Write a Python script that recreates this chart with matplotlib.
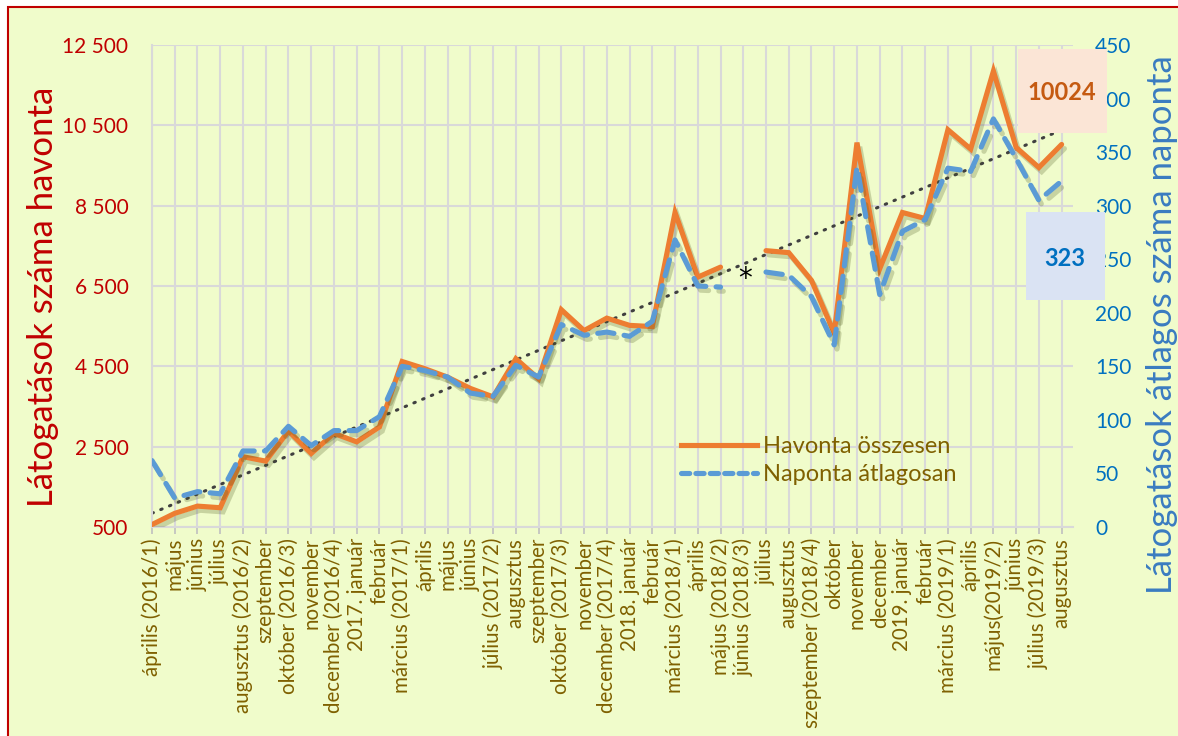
import numpy as np
import matplotlib.pyplot as plt
import matplotlib.patheffects as pe
from matplotlib.patches import Rectangle
from matplotlib.lines import Line2D

plt.rcParams['font.family'] = ['Lato', 'DejaVu Sans']

# months April 2016 - August 2019
months = ['április (2016/1)', 'május', 'június', 'július', 'augusztus (2016/2)',
          'szeptember', 'október (2016/3)', 'november', 'december (2016/4)',
          '2017. január', 'február', 'március (2017/1)', 'április', 'május',
          'június', 'július (2017/2)', 'augusztus', 'szeptember', 'október (2017/3)',
          'november', 'december (2017/4)', '2018. január', 'február',
          'március (2018/1)', 'április', 'május (2018/2)', 'június (2018/3)',
          'július', 'augusztus', 'szeptember (2018/4)', 'október', 'november',
          'december', '2019. január', 'február', 'március (2019/1)', 'április',
          'május(2019/2)', 'június', 'július (2019/3)', 'augusztus']

# monthly total visits (left axis), June 2018 missing
monthly = [560, 840, 1020, 980, 2250, 2140, 2890, 2330, 2830, 2620,
           2990, 4620, 4440, 4230, 3950, 3740, 4690, 4190, 5910, 5390,
           5700, 5520, 5490, 8330, 6720, 6970, np.nan, 7380, 7330, 6640,
           5330, 10070, 6930, 8330, 8180, 10390, 9910, 11850, 9950, 9450,
           10024]

# daily average visits (right axis)
daily = [62, 27, 33, 31, 71, 71, 94, 76, 90, 90,
         103, 150, 146, 140, 125, 122, 151, 140, 189, 179,
         182, 178, 192, 268, 225, 224, np.nan, 238, 235, 215,
         170, 336, 217, 276, 287, 335, 332, 381, 344, 305,
         323]

left_ticks = [500, 2500, 4500, 6500, 8500, 10500, 12500]
right_ticks = [0, 50, 100, 150, 200, 250, 300, 350, 400, 450]

red = '#C00000'
blue_txt = '#0070C0'
olive = '#7F6000'
orange = '#ED7D31'
blue = '#5B9BD5'
bg = '#F0FCCB'

fig = plt.figure(figsize=(11.78, 7.36), dpi=100)
fig.patch.set_facecolor('white')
fig.add_artist(Rectangle((8 / 1178, -0.05), 1.2, 1 - 7 / 736 + 0.05,
                         transform=fig.transFigure, facecolor=bg,
                         edgecolor=red, linewidth=1.5, zorder=-10))

ax = fig.add_axes([152 / 1178, 1 - 527 / 736, (1073 - 152) / 1178, (527 - 45) / 736])
ax.set_facecolor('none')
x = np.arange(len(months))

shadow = [pe.SimpleLineShadow(offset=(2, -3), shadow_color='#4d5a20', alpha=0.25),
          pe.Normal()]

ax.plot(x, monthly, color=orange, lw=3.7, solid_capstyle='round',
        solid_joinstyle='miter', path_effects=shadow, zorder=3)

# linear trendline of the monthly totals
m = ~np.isnan(np.array(monthly, dtype=float))
coef = np.polyfit(x[m], np.array(monthly)[m], 1)
ax.plot(x, np.polyval(coef, x), color='#404040', lw=2.2, ls=(0, (0.5, 2.6)),
        dash_capstyle='round', zorder=2)

ax.set_xlim(0, 40.5)
ax.set_ylim(500, 12500)
ax.set_yticks(left_ticks)
ax.set_yticklabels([f'{v:,}'.replace(',', ' ') for v in left_ticks])
ax.tick_params(axis='y', colors=red, labelsize=15, length=0, pad=17)
ax.set_xticks(x)
ax.set_xticklabels(months, rotation=90, color=olive, fontsize=14.8)
ax.tick_params(axis='x', color='#BFBFBF', length=5, width=1.2, pad=3)
ax.grid(True, color='#D9D9D9', lw=1.5, zorder=0)
ax.set_axisbelow(True)
for s in ['top', 'right']:
    ax.spines[s].set_visible(False)
for s in ['left', 'bottom']:
    ax.spines[s].set_color('#D9D9D9')
    ax.spines[s].set_linewidth(1.5)

ax2 = ax.twinx()
ax2.plot(x, daily, color=blue, lw=3.7, ls=(0, (3.2, 2.0)),
         dash_capstyle='round', path_effects=shadow, zorder=3)
ax2.set_ylim(0, 450)
ax2.set_yticks(right_ticks)
ax2.tick_params(axis='y', colors=blue_txt, labelsize=15, length=0, pad=16)
for s in ax2.spines.values():
    s.set_visible(False)

ax.text(26.1, 6680, '*', fontsize=20, color='black', ha='center', va='center',
        family='DejaVu Sans')

fig.text(43 / 1178, 1 - 297 / 736, 'Látogatások száma havonta', rotation=90,
         color=red, fontsize=25, ha='center', va='center')
fig.text(1162 / 1178, 1 - 325 / 736, 'Látogatások átlagos száma naponta',
         rotation=90, color='#3A7CC0', fontsize=25, ha='center', va='center')

handles = [Line2D([], [], color=orange, lw=3.7),
           Line2D([], [], color=blue, lw=3.7, ls=(0, (1.6, 1.2)), dash_capstyle='round')]
ax2.legend(handles, ['Havonta összesen', 'Naponta átlagosan'],
           loc='upper left', bbox_to_anchor=(660 / 1178, 1 - 415 / 736),
           bbox_transform=fig.transFigure, frameon=False, fontsize=17,
           labelcolor=olive, handlelength=3.2, handletextpad=0.25, labelspacing=0.3)

# value boxes for the last month
fig.add_artist(Rectangle((1018 / 1178, 1 - 133 / 736), 89 / 1178, 84 / 736,
                         transform=fig.transFigure, facecolor='#FBE5D6',
                         edgecolor='none', zorder=5))
fig.text(1062 / 1178, 1 - 92 / 736, '10024', color='#C55A11', fontsize=17,
         fontweight='bold', ha='center', va='center', zorder=6)
fig.add_artist(Rectangle((1026 / 1178, 1 - 300 / 736), 79 / 1178, 88 / 736,
                         transform=fig.transFigure, facecolor='#DAE3F3',
                         edgecolor='none', zorder=5))
fig.text(1065 / 1178, 1 - 258 / 736, '323', color=blue_txt, fontsize=17,
         fontweight='bold', ha='center', va='center', zorder=6)

fig.savefig('out.png', dpi=100)
